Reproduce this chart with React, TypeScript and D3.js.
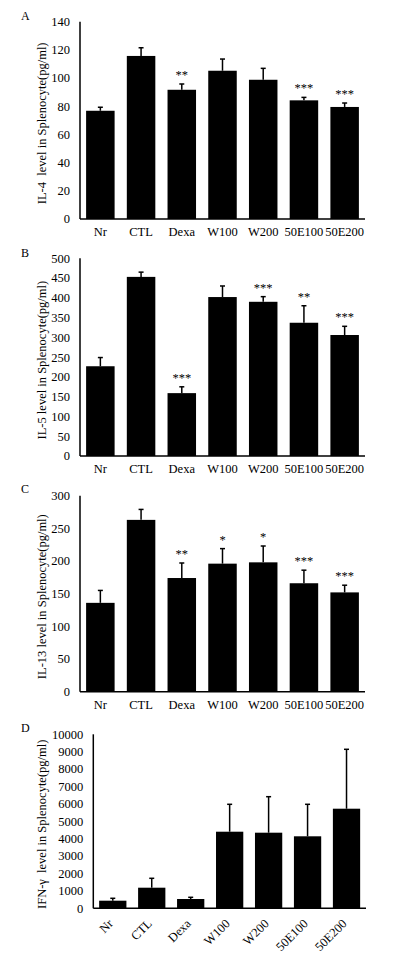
import * as d3 from 'd3';

const categories = ['Nr', 'CTL', 'Dexa', 'W100', 'W200', '50E100', '50E200'];

const il4Mean = [76.8, 115.7, 91.7, 105.2, 98.8, 84.2, 79.5];
const il4Err = [2.5, 5.8, 4.1, 8.3, 8.1, 2.1, 2.8];
const il4Sig = ['', '', '**', '', '', '***', '***'];

const il5Mean = [227, 453, 159, 402, 390, 337, 306];
const il5Err = [22, 12, 16, 28, 13, 43, 22];
const il5Sig = ['', '', '***', '', '***', '**', '***'];

const il13Mean = [136, 263, 174, 196, 198, 166, 152];
const il13Err = [19, 16, 23, 23, 25, 20, 11];
const il13Sig = ['', '', '**', '*', '*', '***', '***'];

const ifnMean = [437, 1184, 534, 4402, 4345, 4138, 5724];
const ifnErr = [138, 540, 98, 1575, 2069, 1839, 3414];
const ifnSig = ['', '', '', '', '', '', ''];

const FONT = '"Liberation Serif", "Times New Roman", serif';
const FS = 12.5;

type PanelProps = {
  letter: string;
  letterY: number;
  title: string;
  means: number[];
  errs: number[];
  sig: string[];
  max: number;
  step: number;
  x0: number;
  x1: number;
  top: number;
  bottom: number;
  rotated?: boolean;
};

function Panel({ letter, letterY, title, means, errs, sig, max, step, x0, x1, top, bottom, rotated }: PanelProps) {
  const x = d3.scaleBand(categories, [x0, x1]).paddingInner(0.3).paddingOuter(0.15);
  const y = d3.scaleLinear([0, max], [bottom, top]);
  const ticks = d3.range(0, max + step / 2, step);
  const midY = (top + bottom) / 2 + 3;

  return (
    <g fontFamily={FONT} fill='#000'>
      <text x={21} y={letterY} fontSize={12}>{letter}</text>
      <text
        transform={`translate(46, ${midY}) rotate(-90)`}
        textAnchor='middle'
        fontSize={FS}
        style={{ whiteSpace: 'pre' }}>
        {title}
      </text>
      {ticks.map((t) => (
        <text key={t} x={x0 - 10} y={y(t)} dy='0.35em' textAnchor='end' fontSize={FS}>
          {t}
        </text>
      ))}
      {categories.map((c, i) => {
        const bx = x(c)!;
        const cx = bx + x.bandwidth() / 2;
        const yTop = y(means[i]);
        const yErr = y(means[i] + errs[i]);
        return (
          <g key={c}>
            <rect x={bx} y={yTop} width={x.bandwidth()} height={bottom - yTop} fill='#000' />
            <line x1={cx} x2={cx} y1={yTop} y2={yErr} stroke='#000' strokeWidth={1.5} />
            <line x1={cx - 2.5} x2={cx + 2.5} y1={yErr} y2={yErr} stroke='#000' strokeWidth={1.5} />
            {sig[i] && (
              <text x={cx} y={yErr - 5} textAnchor='middle' fontSize={FS}>
                {sig[i]}
              </text>
            )}
            {rotated ? (
              <text
                transform={`translate(${cx + 1}, ${bottom + 16}) rotate(-45)`}
                textAnchor='end'
                fontSize={FS}>
                {c}
              </text>
            ) : (
              <text x={cx} y={bottom + 17} textAnchor='middle' fontSize={FS}>
                {c}
              </text>
            )}
          </g>
        );
      })}
      <line x1={x0} x2={x0} y1={top} y2={bottom} stroke='#000' strokeWidth={1.5} />
      <line x1={x0} x2={x1} y1={bottom} y2={bottom} stroke='#000' strokeWidth={1.5} />
    </g>
  );
}

export default function App() {
  return (
    <div style={{ position: 'absolute', left: 0, top: 0 }}>
      <svg width={397} height={962} style={{ display: 'block', background: '#fff' }}>
        <Panel letter='A' letterY={20} title='IL-4  level in Splenocyte(pg/ml)'
          means={il4Mean} errs={il4Err} sig={il4Sig} max={140} step={20}
          x0={80} x1={365} top={21.7} bottom={219} />
        <Panel letter='B' letterY={257} title='IL-5 level in Splenocyte(pg/ml)'
          means={il5Mean} errs={il5Err} sig={il5Sig} max={500} step={50}
          x0={80} x1={365} top={258.3} bottom={456} />
        <Panel letter='C' letterY={493} title='IL-13 level in Splenocyte(pg/ml)'
          means={il13Mean} errs={il13Err} sig={il13Sig} max={300} step={50}
          x0={80} x1={365} top={495.7} bottom={691.7} />
        <Panel letter='D' letterY={732} title='IFN-γ  level in Splenocyte(pg/ml)'
          means={ifnMean} errs={ifnErr} sig={ifnSig} max={10000} step={1000}
          x0={93.3} x1={366} top={734.3} bottom={908.3} rotated />
      </svg>
    </div>
  );
}
